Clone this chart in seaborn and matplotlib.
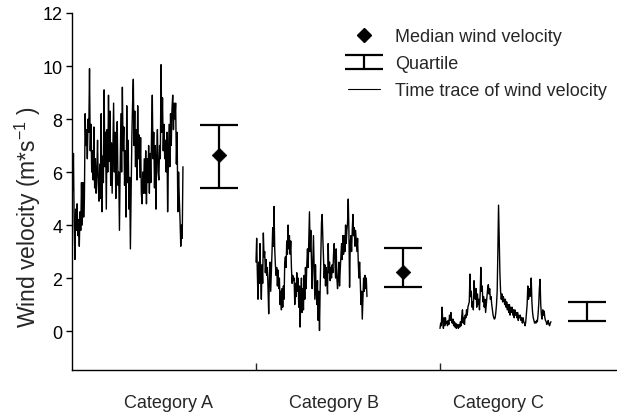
import numpy as np
import pandas as pd
import matplotlib
matplotlib.use("Agg")
import matplotlib.pyplot as plt
import seaborn as sns
from matplotlib.lines import Line2D
from matplotlib.container import ErrorbarContainer
from matplotlib.legend_handler import HandlerErrorbar

# ---------------- data ----------------
categories = ["Category A", "Category B", "Category C"]

trace_a = [6.6, 5.3, 6.7, 4.0, 2.7, 4.6, 3.8, 4.8, 3.6, 4.2, 3.2, 4.5, 3.8, 5.6, 4.0, 5.6, 4.3, 5.0,
           8.2, 7.0, 7.6, 6.5, 8.0, 7.5, 9.9, 6.8, 7.8, 6.0, 6.8, 5.7, 7.7, 5.4, 6.5, 5.2, 6.0,
           7.2, 5.5, 4.9, 6.3, 5.0, 8.2, 4.5, 6.6, 5.6, 9.1, 6.2, 7.5, 4.6, 7.6, 6.0, 8.9, 6.4,
           8.3, 5.5, 7.1, 5.2, 6.9, 8.6, 6.0, 7.5, 5.0, 6.8, 7.9, 5.5, 6.0, 3.8, 6.2, 8.2, 6.0,
           9.2, 6.8, 7.7, 5.5, 6.8, 4.3, 8.5, 5.6, 7.2, 4.6, 5.8, 3.1, 5.3, 7.3, 8.6, 9.5, 7.0,
           8.3, 6.2, 7.6, 5.7, 8.5, 6.5, 7.4, 5.8, 7.3, 5.2, 4.8, 6.0, 5.2, 6.5, 5.2, 6.8, 4.8,
           6.5, 5.6, 7.0, 5.2, 6.7, 5.6, 7.5, 8.9, 6.5, 7.5, 5.4, 7.0, 4.6, 6.6, 7.6, 6.0, 5.7,
           7.0, 6.5, 10.05, 7.5, 8.8, 6.8, 7.8, 6.5, 7.2, 6.0, 7.5, 4.5, 6.3, 7.8, 6.2, 8.2, 7.0,
           8.4, 8.9, 7.6, 8.6, 8.0, 8.6, 6.3, 7.5, 4.5, 6.0, 5.0, 4.2, 3.2, 4.0, 3.5, 6.2]

trace_b = [2.6, 3.5, 2.2, 1.2, 2.6, 1.8, 3.3, 2.0, 1.2, 2.5, 1.8, 3.7, 2.8, 3.0, 2.2, 2.7, 2.1, 2.4,
           1.6, 0.65, 2.0, 2.6, 1.5, 2.2, 3.0, 3.9, 3.2, 4.7, 3.1, 2.5, 2.1, 2.4, 1.7, 2.3, 1.6,
           2.0, 1.0, 1.5, 0.8, 1.6, 0.9, 1.7, 1.2, 2.6, 2.8, 2.4, 3.4, 2.9, 4.0, 3.1, 3.6, 2.9,
           3.4, 2.4, 1.8, 2.1, 1.9, 2.0, 1.0, 1.8, 1.3, 2.2, 1.5, 2.0, 0.9, 1.7, 0.15, 1.4, 2.0,
           0.7, 1.6, 0.8, 2.1, 1.2, 2.4, 1.6, 2.5, 3.1, 2.4, 3.5, 4.5, 3.0, 3.8, 2.6, 1.6, 2.6,
           3.6, 2.3, 1.2, 2.5, 1.5, 1.0, 1.9, 0.4, 1.5, 0.02, 1.6, 2.8, 4.1, 4.4, 3.5, 2.8, 2.0,
           2.5, 1.7, 2.4, 2.0, 1.4, 3.3, 2.2, 2.6, 1.9, 2.4, 2.0, 2.5, 2.2, 2.9, 3.3, 2.6, 2.0,
           3.1, 2.0, 1.6, 2.0, 2.6, 1.7, 2.3, 2.8, 3.3, 2.7, 3.6, 2.9, 3.6, 3.0, 4.0, 3.3, 3.8,
           4.1, 4.98, 3.8, 1.65, 3.3, 3.6, 3.0, 3.8, 4.4, 3.6, 3.9, 3.2, 3.8, 3.4, 3.0, 3.5, 2.6,
           2.0, 2.6, 1.9, 1.0, 1.5, 0.45, 1.2, 2.0, 1.5, 2.1, 1.6, 2.0, 1.3]

trace_c = [0.1, 0.3, 0.2, 0.9, 0.4, 0.1, 0.5, 0.2, 0.5, 0.3, 0.35, 0.2, 0.4, 0.25, 0.6, 0.4, 0.7,
           0.4, 0.3, 0.45, 0.2, 0.35, 0.15, 0.3, 0.1, 0.25, 0.2, 0.1, 0.25, 0.15, 0.35, 0.2, 0.55,
           0.8, 0.3, 0.5, 0.25, 0.6, 0.5, 0.8, 0.6, 0.9, 1.0, 1.1, 2.15, 1.3, 1.5, 0.9, 1.1, 0.8,
           1.9, 1.5, 1.2, 1.6, 0.9, 1.4, 1.0, 1.2, 0.8, 1.4, 2.4, 1.5, 1.7, 1.1, 1.3, 0.9, 1.2,
           0.7, 1.0, 1.3, 1.6, 1.75, 1.4, 1.6, 1.2, 1.3, 1.0, 0.8, 0.6, 0.5, 0.45, 0.5, 0.7, 1.0,
           1.5, 3.0, 4.75, 3.5, 2.2, 1.5, 1.2, 1.4, 1.1, 1.3, 1.2, 1.0, 1.2, 0.9, 1.1, 0.8, 1.0,
           0.7, 1.0, 0.6, 0.9, 0.7, 0.9, 0.6, 0.8, 0.5, 0.8, 0.6, 0.7, 0.5, 0.7, 0.4, 0.6, 0.5,
           0.6, 0.4, 0.5, 0.3, 0.5, 0.35, 0.3, 0.2, 0.35, 0.7, 1.0, 1.7, 1.2, 1.6, 1.3, 1.5, 2.0,
           1.1, 0.7, 0.5, 0.4, 0.3, 0.35, 0.3, 0.4, 0.35, 0.6, 1.0, 1.6, 1.95, 1.0, 0.6, 0.45,
           0.8, 0.6, 0.75, 0.5, 0.4, 0.35, 0.25, 0.3, 0.4, 0.25, 0.2, 0.3, 0.35]

median_vals = [6.64, 2.24, np.nan]
q1_vals = [5.40, 1.65, 0.37]
q3_vals = [7.78, 3.13, 1.11]

y_ticks = [0, 2, 4, 6, 8, 10, 12]

# ---------------- style ----------------
sns.set_style("ticks")
plt.rcParams["font.family"] = ["Liberation Sans", "DejaVu Sans"]
plt.rcParams["mathtext.fontset"] = "custom"
plt.rcParams["mathtext.rm"] = "Liberation Sans"
plt.rcParams["mathtext.it"] = "Liberation Sans:italic"

fig = plt.figure(figsize=(6.17, 4.14), dpi=100)
ax = fig.add_axes([72 / 617, 43 / 414, 545 / 617, 357 / 414])

trace_span = 0.603
bar_offset = 0.80

frames = []
for i, (cat, vals) in enumerate(zip(categories, [trace_a, trace_b, trace_c])):
    n = len(vals)
    frames.append(pd.DataFrame({
        "x": i + np.linspace(0, trace_span, n),
        "v": vals,
        "cat": cat,
    }))
df = pd.concat(frames, ignore_index=True)

sns.lineplot(data=df, x="x", y="v", units="cat", estimator=None, sort=False,
             color="black", linewidth=1.0, ax=ax, legend=False)

xpos = np.arange(len(categories)) + bar_offset
q1 = np.array(q1_vals)
q3 = np.array(q3_vals)
mid = (q1 + q3) / 2
eb = ax.errorbar(xpos, mid, yerr=(q3 - q1) / 2, fmt="none", ecolor="black",
                 elinewidth=1.6, capsize=14, capthick=1.6, zorder=3)
sns.scatterplot(x=xpos, y=median_vals, marker="D", s=55, color="black",
                edgecolor="black", linewidth=0.5, ax=ax, zorder=4, legend=False)

ax.set_xlim(0, 545 / 184)
ax.set_ylim(-1.47, 12)
ax.set_yticks(y_ticks)
ax.set_yticklabels([str(t) for t in y_ticks], fontsize=13)
ax.tick_params(axis="y", direction="out", length=4, width=1, pad=3, colors="black")

ax.set_xticks([1, 2])
ax.set_xticklabels([])
ax.tick_params(axis="x", which="major", direction="in", length=5, width=1)
ax.set_xticks([0.527, 1.424, 2.315], minor=True)
ax.set_xticklabels(categories, minor=True, fontsize=13)
ax.tick_params(axis="x", which="minor", length=0, pad=17.5)
ax.set_xlabel("")

ax.set_ylabel("Wind velocity (m*s$^{\\mathregular{-1}}$ )", fontsize=16.5)
ax.yaxis.set_label_coords(-0.053, 0.43)

for s in ["top", "right"]:
    ax.spines[s].set_visible(False)
for s in ["left", "bottom"]:
    ax.spines[s].set_linewidth(1.0)
    ax.spines[s].set_color("black")

h_med = Line2D([], [], marker="D", color="black", linestyle="none", markersize=7)
h_trace = Line2D([], [], color="black", linewidth=0.8)
leg = ax.legend([h_med, eb, h_trace],
                ["Median wind velocity", "Quartile", "Time trace of wind velocity"],
                loc="upper left", bbox_to_anchor=(348 / 617, 1 - 29 / 414),
                bbox_transform=fig.transFigure, frameon=False, fontsize=13,
                handlelength=1.8, handletextpad=0.8, labelspacing=0.56,
                borderpad=0, borderaxespad=0,
                handler_map={ErrorbarContainer: HandlerErrorbar(yerr_size=0.39)})

fig.savefig("out.png", dpi=100)
